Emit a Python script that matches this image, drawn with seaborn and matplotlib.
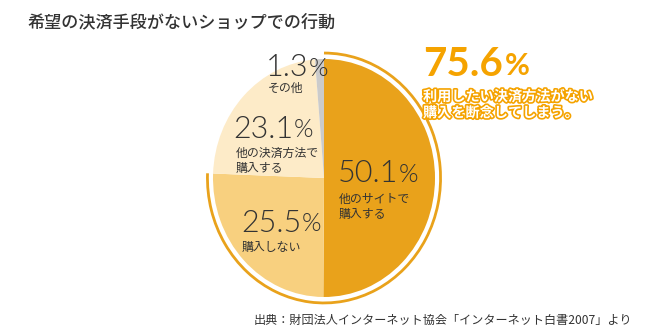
import matplotlib
matplotlib.use("Agg")
import matplotlib.pyplot as plt
import seaborn as sns
from matplotlib.patches import Arc
import matplotlib.patheffects as pe

# ---- data ----
values = [50.1, 25.5, 23.1, 1.3]
value_labels = ["50.1", "25.5", "23.1", "1.3"]
categories = ["他のサイトで\n購入する", "購入しない", "他の決済方法で\n購入する", "その他"]
title = "希望の決済手段がないショップでの行動"
highlight_value = "75.6"
highlight_text = "利用したい決済方法がない\n購入を断念してしまう。"
source = "出典：財団法人インターネット協会「インターネット白書2007」より"

colors = ["#E9A21B", "#F8D07F", "#FDEBC8", "#CBCBCB"]
ORANGE = "#F5A300"
DARK = "#333333"

sns.set_theme(style="white")
plt.rcParams["font.family"] = ["Noto Sans CJK JP", "DejaVu Sans"]

W, H = 650, 333
fig = plt.figure(figsize=(W / 100, H / 100), dpi=100)

# pie axes (slightly elliptical as in reference)
cx, cy, rx, ry = 324, 178, 111, 119
lim = 1.25
aw, ah = 2 * lim * rx, 2 * lim * ry
ax = fig.add_axes([(cx - aw / 2) / W, (H - cy - ah / 2) / H, aw / W, ah / H])
ax.pie(values, colors=colors, startangle=90, counterclock=False,
       wedgeprops=dict(linewidth=0))
ax.set_aspect("auto")
ax.set_xlim(-lim, lim)
ax.set_ylim(-lim, lim)
ax.axis("off")

# outer arc over the 75.6% part
share = (values[0] + values[1]) / 100.0
theta_end = 90
theta_start = 90 - share * 360
ax.add_patch(Arc((0, 0), 2 * 1.05, 2 * 1.05, theta1=theta_start, theta2=theta_end,
                 color=colors[0], lw=2.0))

def fx(x):
    return x / W

def fy(y):
    return 1 - y / H

num_font = dict(family=["Lato", "DejaVu Sans"], fontweight=300, color=DARK)

fig.canvas.draw()
renderer = fig.canvas.get_renderer()

def number(x, y, s, size=22, pct_size=18, gap=0.5, **kw):
    t = fig.text(fx(x), fy(y), s, ha="left", va="center", fontsize=size, **kw)
    bb = t.get_window_extent(renderer=renderer)
    fig.text((bb.x1 + gap) / W, fy(y) - 0.002, "%", ha="left", va="center",
             fontsize=pct_size, **kw)

# slice labels
number(266, 68, value_labels[3], **num_font)
fig.text(fx(268), fy(88), categories[3], ha="left", va="center", fontsize=8.6, color=DARK)

number(233, 129, value_labels[2], **num_font)
fig.text(fx(236), fy(161), categories[2], ha="left", va="center", fontsize=8.6,
         color=DARK, linespacing=1.15)

number(338, 174, value_labels[0], **num_font)
fig.text(fx(339), fy(207), categories[0], ha="left", va="center", fontsize=8.6,
         color=DARK, linespacing=1.15)

number(241, 223, value_labels[1], **num_font)
fig.text(fx(242), fy(247), categories[1], ha="left", va="center", fontsize=8.6, color=DARK)

# highlight
number(423, 65, highlight_value, size=29, pct_size=22, gap=2,
       family=["Lato", "DejaVu Sans"], fontweight="bold", color=ORANGE)
fig.text(fx(423), fy(105), highlight_text, ha="left", va="center", fontsize=10.2,
         fontweight="bold", color="white", linespacing=1.2,
         path_effects=[pe.withStroke(linewidth=2.4, foreground=ORANGE)])

# title and source
fig.text(fx(27), fy(22), title, ha="left", va="center", fontsize=12.3,
         fontweight="medium", color=DARK)
fig.text(fx(632), fy(320), source, ha="right", va="center", fontsize=8.7, color=DARK)

fig.savefig("out.png", dpi=100)
